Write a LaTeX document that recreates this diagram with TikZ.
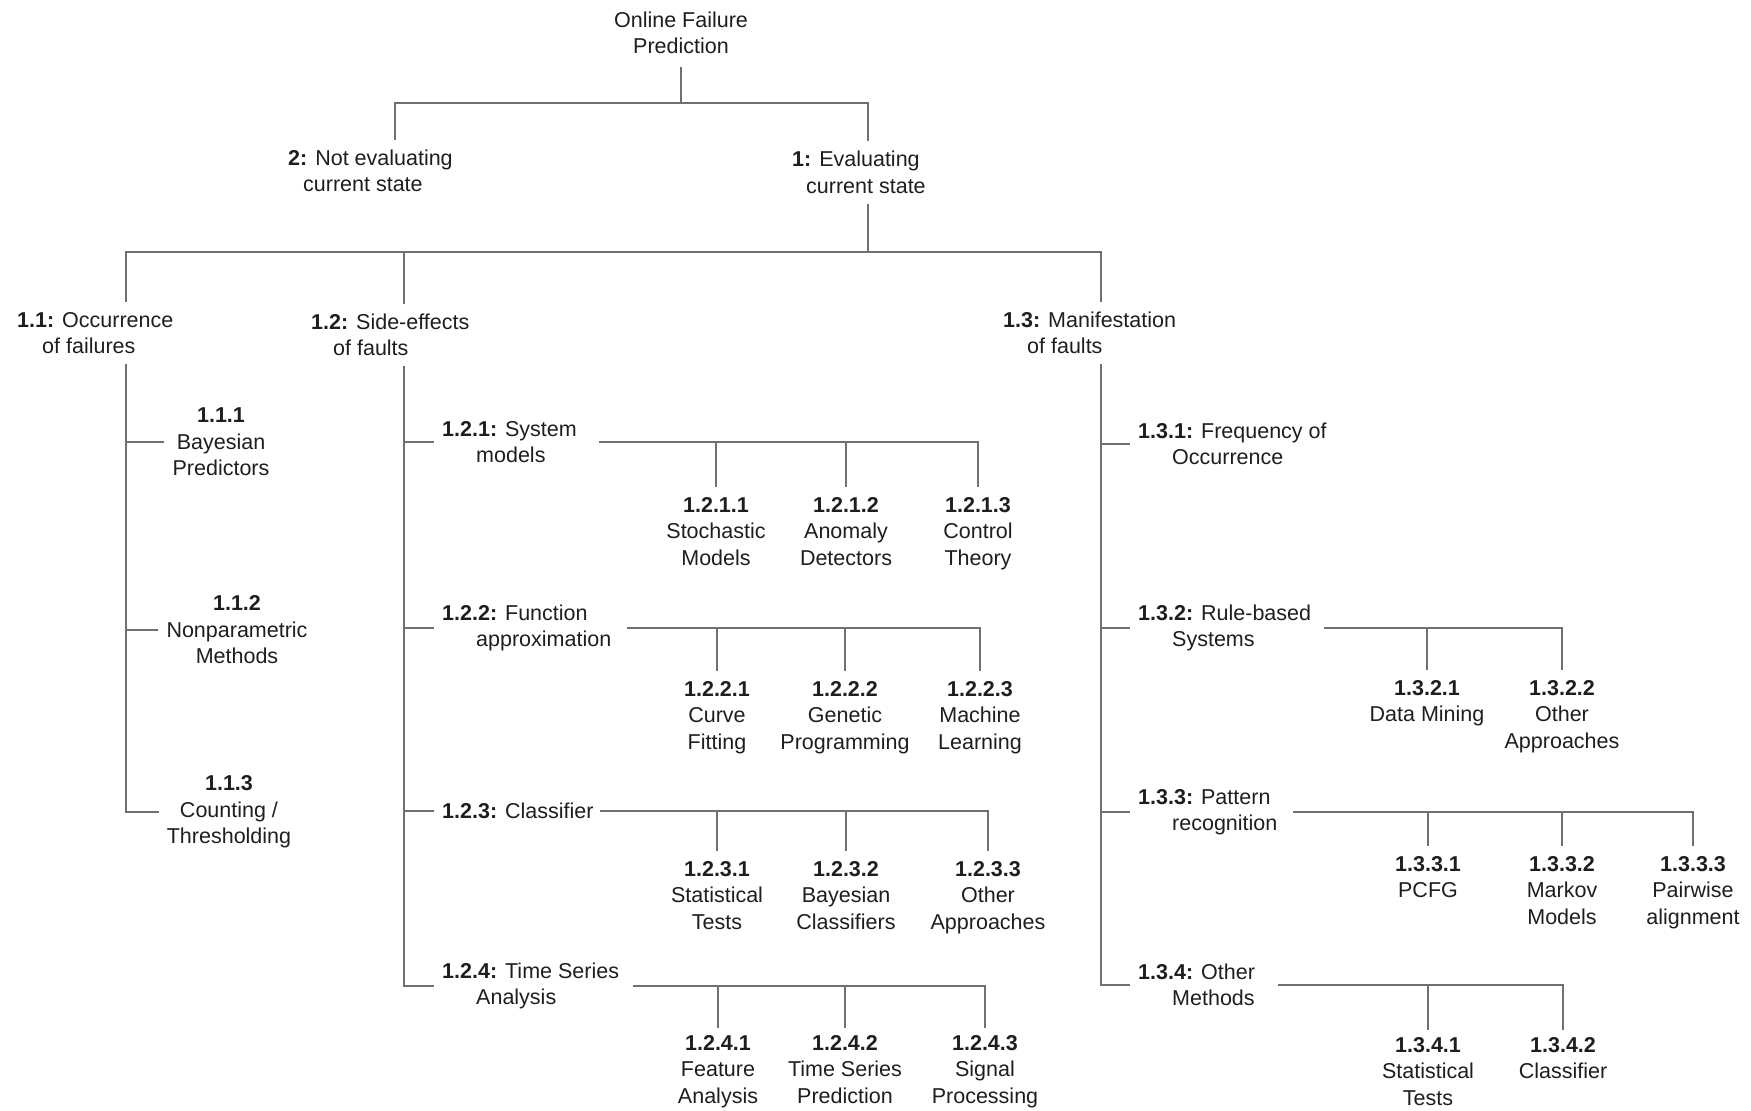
\documentclass[tikz,border=0pt]{standalone}
\usepackage{fontspec}
\setmainfont{Liberation Sans}
\definecolor{ink}{RGB}{30,30,30}
\definecolor{wire}{RGB}{112,112,112}
\begin{document}
\begin{tikzpicture}[x=1pt,y=-1pt,
  every node/.style={font=\fontsize{21.5}{26.5}\selectfont, text=ink, inner xsep=0pt},
  head/.style={align=left, anchor=west, inner ysep=10pt},
  branchlbl/.style={align=left, anchor=west, inner xsep=8pt, inner ysep=2pt},
  leaf/.style={align=center, anchor=north, inner ysep=10pt},
  lowleaf/.style={leaf, inner ysep=7pt},
  sideleaf/.style={align=center, inner xsep=8pt, inner ysep=2pt},
  link/.style={draw=wire, line width=1.8pt}]
\useasboundingbox (0,0) rectangle (1751,1111);

% ---------- upper levels ----------
\node[align=center, inner ysep=13pt] (root) at (681,33) {Online Failure\\Prediction};
\node[head] (n2) at (288,171) {\textbf{2:} Not evaluating\\\hspace*{15pt}current state};
\node[head] (n1) at (792,172.5) {\textbf{1:} Evaluating\\\hspace*{14pt}current state};

\node[head] (n11) at (17,333) {\textbf{1.1:} Occurrence\\\hspace*{25pt}of failures};
\node[head] (n12) at (311,335) {\textbf{1.2:} Side-effects\\\hspace*{22pt}of faults};
\node[head] (n13) at (1003,333) {\textbf{1.3:} Manifestation\\\hspace*{24pt}of faults};

\coordinate (b0) at (395,103);
\coordinate (b0e) at (868,103);
\draw[link] (root.south) -- (root.south |- b0);
\draw[link] (n2.north -| b0) -- (b0) -- (b0e) -- (n1.north -| b0e);

\coordinate (b1) at (126,252);
\coordinate (b1m) at (404,252);
\coordinate (b1e) at (1101,252);
\draw[link] (n1.south -| b0e) -- (b0e |- b1);
\draw[link] (n11.north -| b1) -- (b1) -- (b1e) -- (n13.north -| b1e);
\draw[link] (b1m) -- (n12.north -| b1m);

% ---------- 1.1 branch ----------
\node[sideleaf] (n111) at (221,442) {\textbf{1.1.1}\\Bayesian\\Predictors};
\node[sideleaf] (n112) at (237,630) {\textbf{1.1.2}\\Nonparametric\\Methods};
\node[sideleaf] (n113) at (229,812) {\textbf{1.1.3}\\Counting /\\Thresholding};
\draw[link] (n11.south -| b1) |- (n111.west);
\draw[link] (n11.south -| b1) |- (n112.west);
\draw[link] (n11.south -| b1) |- (n113.west);

% ---------- 1.2 branch ----------
\node[branchlbl] (n121) at (434,442) {\textbf{1.2.1:} System\\\hspace*{34pt}models};
\node[branchlbl] (n122) at (434,628) {\textbf{1.2.2:} Function\\\hspace*{34pt}approximation};
\node[branchlbl] (n123) at (434,811) {\textbf{1.2.3:} Classifier};
\node[branchlbl] (n124) at (434,986) {\textbf{1.2.4:} Time Series\\\hspace*{34pt}Analysis};
\foreach \k in {n121,n122,n123,n124}
  \draw[link] (n12.south -| b1m) |- (\k.west);

\node[leaf] (n1211) at (716,487) {\textbf{1.2.1.1}\\Stochastic\\Models};
\node[leaf] (n1212) at (846,487) {\textbf{1.2.1.2}\\Anomaly\\Detectors};
\node[leaf] (n1213) at (978,487) {\textbf{1.2.1.3}\\Control\\Theory};
\coordinate (s121) at (599,442);
\draw[link] (s121) -- (s121 -| n1213.north) -- (n1213.north);
\draw[link] (s121 -| n1211.north) -- (n1211.north);
\draw[link] (s121 -| n1212.north) -- (n1212.north);

\node[leaf] (n1221) at (717,671) {\textbf{1.2.2.1}\\Curve\\Fitting};
\node[leaf] (n1222) at (845,671) {\textbf{1.2.2.2}\\Genetic\\Programming};
\node[leaf] (n1223) at (980,671) {\textbf{1.2.2.3}\\Machine\\Learning};
\coordinate (s122) at (627,628);
\draw[link] (s122) -- (s122 -| n1223.north) -- (n1223.north);
\draw[link] (s122 -| n1221.north) -- (n1221.north);
\draw[link] (s122 -| n1222.north) -- (n1222.north);

\node[leaf] (n1231) at (717,851) {\textbf{1.2.3.1}\\Statistical\\Tests};
\node[leaf] (n1232) at (846,851) {\textbf{1.2.3.2}\\Bayesian\\Classifiers};
\node[leaf] (n1233) at (988,851) {\textbf{1.2.3.3}\\Other\\Approaches};
\coordinate (s123) at (600,811);
\draw[link] (s123) -- (s123 -| n1233.north) -- (n1233.north);
\draw[link] (s123 -| n1231.north) -- (n1231.north);
\draw[link] (s123 -| n1232.north) -- (n1232.north);

\node[lowleaf] (n1241) at (718,1028) {\textbf{1.2.4.1}\\Feature\\Analysis};
\node[lowleaf] (n1242) at (845,1028) {\textbf{1.2.4.2}\\Time Series\\Prediction};
\node[lowleaf] (n1243) at (985,1028) {\textbf{1.2.4.3}\\Signal\\Processing};
\coordinate (s124) at (633,986);
\draw[link] (s124) -- (s124 -| n1243.north) -- (n1243.north);
\draw[link] (s124 -| n1241.north) -- (n1241.north);
\draw[link] (s124 -| n1242.north) -- (n1242.north);

% ---------- 1.3 branch ----------
\node[branchlbl] (n131) at (1130,444) {\textbf{1.3.1:} Frequency of\\\hspace*{34pt}Occurrence};
\node[branchlbl] (n132) at (1130,628) {\textbf{1.3.2:} Rule-based\\\hspace*{34pt}Systems};
\node[branchlbl] (n133) at (1130,812) {\textbf{1.3.3:} Pattern\\\hspace*{34pt}recognition};
\node[branchlbl] (n134) at (1130,985) {\textbf{1.3.4:} Other\\\hspace*{34pt}Methods};
\foreach \k in {n131,n132,n133,n134}
  \draw[link] (n13.south -| b1e) |- (\k.west);

\node[leaf] (n1321) at (1427,670) {\textbf{1.3.2.1}\\Data Mining};
\node[leaf] (n1322) at (1562,670) {\textbf{1.3.2.2}\\Other\\Approaches};
\coordinate (s132) at (1324,628);
\draw[link] (s132) -- (s132 -| n1322.north) -- (n1322.north);
\draw[link] (s132 -| n1321.north) -- (n1321.north);

\node[leaf] (n1331) at (1428,846) {\textbf{1.3.3.1}\\PCFG};
\node[leaf] (n1332) at (1562,846) {\textbf{1.3.3.2}\\Markov\\Models};
\node[leaf] (n1333) at (1693,846) {\textbf{1.3.3.3}\\Pairwise\\alignment};
\coordinate (s133) at (1293,812);
\draw[link] (s133) -- (s133 -| n1333.north) -- (n1333.north);
\draw[link] (s133 -| n1331.north) -- (n1331.north);
\draw[link] (s133 -| n1332.north) -- (n1332.north);

\node[lowleaf] (n1341) at (1428,1030) {\textbf{1.3.4.1}\\Statistical\\Tests};
\node[lowleaf] (n1342) at (1563,1030) {\textbf{1.3.4.2}\\Classifier};
\coordinate (s134) at (1278,985);
\draw[link] (s134) -- (s134 -| n1342.north) -- (n1342.north);
\draw[link] (s134 -| n1341.north) -- (n1341.north);
\end{tikzpicture}
\end{document}
